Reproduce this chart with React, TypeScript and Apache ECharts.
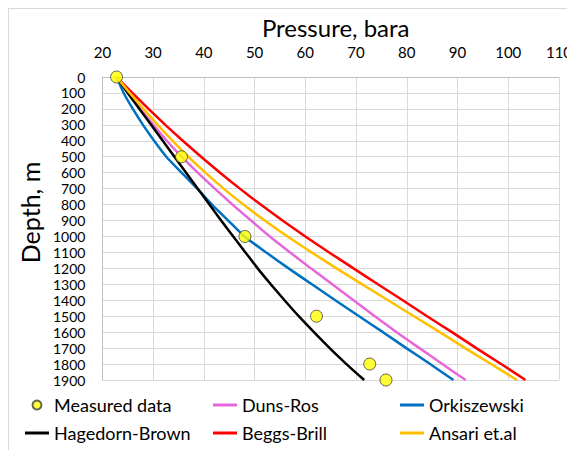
import React, { useEffect, useRef } from "react";
import * as echarts from "echarts";

// Depth stations (m) shared by all correlation curves
const depths = [0, 100, 200, 300, 400, 500, 600, 700, 800, 900, 1000, 1100, 1200, 1300, 1400, 1500, 1600, 1700, 1800, 1900];

// Pressure (bara) predicted by each correlation at the depths above
const dunsRos = [22.8, 25.15, 27.55, 30.05, 32.7, 35.6, 38.8, 42.15, 45.65, 49.3, 53.0, 57.0, 61.1, 65.3, 69.5, 73.7, 78.0, 82.5, 87.0, 91.6];
const orkiszewski = [22.8, 24.2, 26.0, 28.0, 30.2, 32.6, 35.6, 38.7, 41.6, 44.8, 48.0, 52.3, 56.7, 61.3, 65.9, 70.6, 75.3, 79.9, 84.6, 89.2];
const hagedornBrown = [22.8, 25.0, 27.3, 29.6, 31.9, 34.2, 36.5, 38.8, 41.1, 43.4, 45.8, 48.2, 50.6, 53.2, 55.9, 58.7, 61.7, 64.8, 68.1, 71.6];
const beggsBrill = [22.8, 25.9, 29.1, 32.4, 35.85, 39.45, 43.2, 47.1, 51.2, 55.5, 60.0, 64.7, 69.5, 74.3, 79.2, 84.0, 88.9, 93.7, 98.6, 103.4];
const ansari = [22.8, 25.4, 28.1, 30.9, 33.85, 36.95, 40.3, 43.9, 47.8, 52.0, 56.5, 61.25, 66.15, 71.2, 76.3, 81.4, 86.5, 91.5, 96.6, 101.7];

// Field measurements
const measuredDepth = [0, 500, 1000, 1500, 1800, 1900];
const measuredPressure = [22.8, 35.6, 48.1, 62.2, 72.7, 75.9];

const FONT = "Lato";
const LINE_ICON = "path://M0 0H24V3H0Z";

const curve = (name: string, color: string, values: number[]) => ({
  name,
  type: "line",
  symbol: "none",
  smooth: 0.2,
  lineStyle: { color, width: 2.5 },
  itemStyle: { color },
  data: values.map((p, i) => [p, depths[i]]),
});

const legendItem = (name: string) =>
  name === "Measured data" ? { name, icon: "circle" } : { name, icon: LINE_ICON };

const legendCol = (left: number, names: string[]) => ({
  orient: "vertical",
  left,
  top: 382,
  itemWidth: 24,
  itemHeight: 9,
  itemGap: 10,
  textStyle: { fontFamily: FONT, fontSize: 18, color: "#000" },
  data: names.map(legendItem),
});

export default function App() {
  const ref = useRef<HTMLDivElement>(null);

  useEffect(() => {
    const chart = echarts.init(ref.current!, undefined, { renderer: "svg" });
    chart.setOption({
      animation: false,
      backgroundColor: "#fff",
      textStyle: { fontFamily: FONT },
      grid: { left: 92, top: 68, width: 458, height: 303 },
      xAxis: {
        type: "value",
        position: "top",
        min: 20,
        max: 110,
        interval: 10,
        name: "Pressure, bara",
        nameLocation: "middle",
        nameGap: 38,
        nameTextStyle: { fontFamily: FONT, fontSize: 24, color: "#000", padding: [0, 0, 0, 10] },
        axisLine: { lineStyle: { color: "#bfbfbf" } },
        axisTick: { show: false },
        axisLabel: { fontFamily: FONT, fontSize: 15, color: "#000", margin: 18 },
        splitLine: { lineStyle: { color: "#d9d9d9" } },
      },
      yAxis: {
        type: "value",
        inverse: true,
        min: 0,
        max: 1900,
        interval: 100,
        name: "Depth, m",
        nameLocation: "middle",
        nameGap: 60,
        nameTextStyle: { fontFamily: FONT, fontSize: 25, color: "#000", padding: [0, 0, 0, 32] },
        axisLine: { show: true, lineStyle: { color: "#bfbfbf" } },
        axisTick: { show: false },
        axisLabel: {
          fontFamily: FONT,
          fontSize: 14,
          lineHeight: 14,
          color: "#000",
          margin: 17,
          formatter: (v: number) => String(v),
        },
        splitLine: { lineStyle: { color: "#d9d9d9" } },
      },
      legend: [
        legendCol(11, ["Measured data", "Hagedorn-Brown"]),
        legendCol(199, ["Duns-Ros", "Beggs-Brill"]),
        legendCol(386, ["Orkiszewski", "Ansari et.al"]),
      ],
      series: [
        curve("Duns-Ros", "#E667D9", dunsRos),
        curve("Orkiszewski", "#0070C0", orkiszewski),
        curve("Hagedorn-Brown", "#000000", hagedornBrown),
        curve("Beggs-Brill", "#FF0000", beggsBrill),
        curve("Ansari et.al", "#FFC000", ansari),
        {
          name: "Measured data",
          type: "scatter",
          symbol: "circle",
          symbolSize: 12,
          z: 5,
          itemStyle: { color: "#FFFF00", borderColor: "#404040", borderWidth: 1 },
          data: measuredPressure.map((p, i) => [p, measuredDepth[i]]),
        },
      ],
    });
    return () => chart.dispose();
  }, []);

  return (
    <div style={{ width: 575, height: 450, border: "1px solid #d9d9d9", boxSizing: "border-box", background: "#fff" }}>
      <div ref={ref} style={{ width: 573, height: 448 }} />
    </div>
  );
}
